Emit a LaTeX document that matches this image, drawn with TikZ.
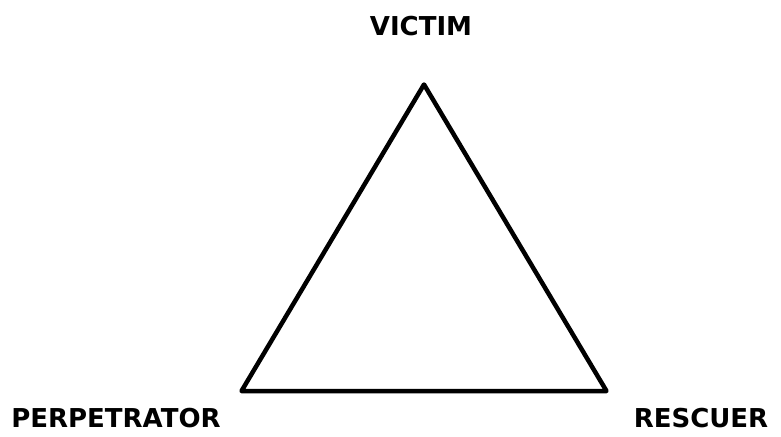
\documentclass[tikz,border=0pt]{standalone}
\usepackage{fontspec}
\setmainfont{DejaVu Sans}
\usepackage{tikz}
\usetikzlibrary{positioning}
\tikzset{
  role/.style={font=\bfseries\fontsize{26}{30}\selectfont, inner sep=0pt},
  edge/.style={line width=4.5pt, draw=black, line join=round}
}
\begin{document}
\begin{tikzpicture}[x=1pt, y=-1pt]
\useasboundingbox (0,0) rectangle (781,436);
\coordinate (top) at (424,84.5);
\coordinate (left) at (241.5,391);
\coordinate (right) at (606.5,391);
\draw[edge] (top) -- (left) -- (right) -- cycle;
\node[role] (victim) at (421,26) {VICTIM};
\node[role] (perp) at (116,418) {PERPETRATOR};
\node[role] (rescuer) at (701,418) {RESCUER};
\end{tikzpicture}
\end{document}
